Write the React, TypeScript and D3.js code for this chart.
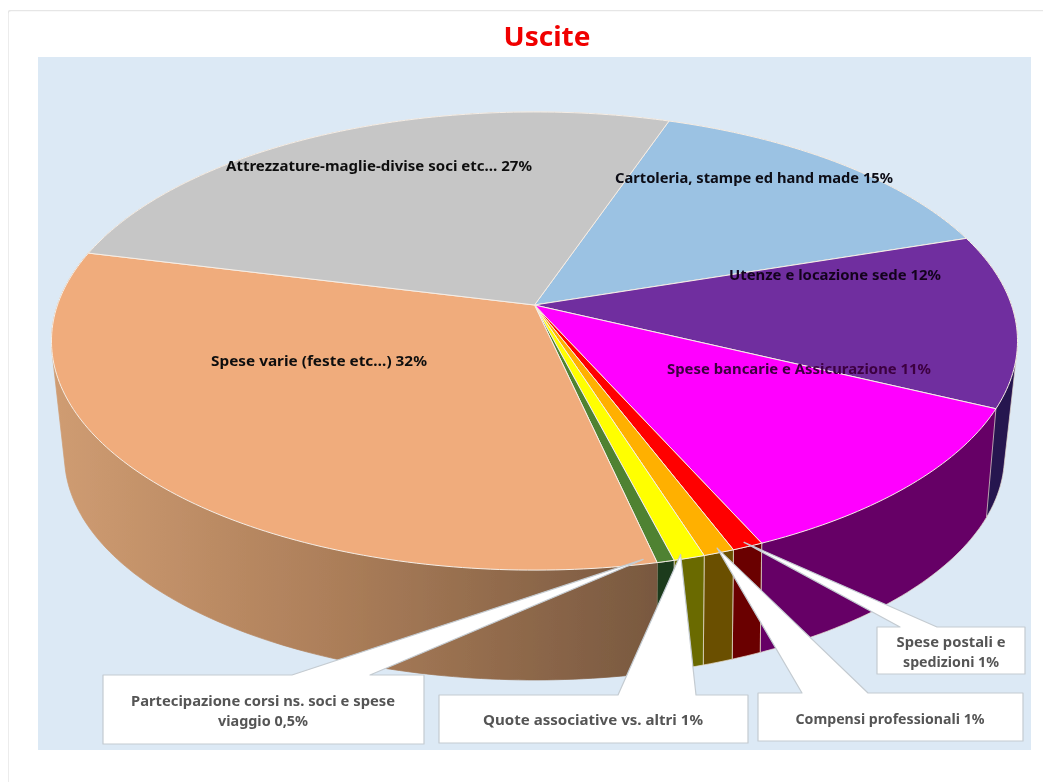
import React from "react";
import * as d3 from "d3";

const W = 1043, H = 782;

// ---------- data ----------
const categories = [
  "Cartoleria, stampe ed hand made",
  "Utenze e locazione sede",
  "Spese bancarie e Assicurazione",
  "Spese postali e spedizioni",
  "Compensi professionali",
  "Quote associative vs. altri",
  "Partecipazione corsi ns. soci e spese viaggio",
  "Spese varie (feste etc…)",
  "Attrezzature-maglie-divise soci etc…",
];
const values = [14.7, 12.2, 11.2, 0.9, 0.9, 0.9, 0.5, 32.4, 26.4];
const topColors = ["#9bc2e3", "#702e9f", "#ff00ff", "#ff0000", "#ffb000", "#ffff00", "#4f8233", "#f0ac7c", "#c6c6c6"];
const wallColors = ["#4d6172", "#27124f", "#660066", "#6a0000", "#6b5000", "#6b6b00", "#1c3a1c", "url(#peachWall)", "#636363"];

const titleText = "Uscite";
const inPieLabels = [
  "Cartoleria, stampe ed hand made 15%",
  "Utenze e locazione sede 12%",
  "Spese bancarie e Assicurazione 11%",
  "Spese varie (feste etc…) 32%",
  "Attrezzature-maglie-divise soci etc… 27%",
];
const calloutLines = [
  ["Spese postali e", "spedizioni 1%"],
  ["Compensi professionali 1%"],
  ["Quote associative vs. altri 1%"],
  ["Partecipazione corsi ns. soci e spese", "viaggio 0,5%"],
];

// ---------- layout ----------
const FONT = "'Noto Sans', 'DejaVu Sans', sans-serif";
const START = (18.9 * Math.PI) / 180;
const CX = 534.5;
type Face = { rx: number; ry: number; hy: number; k: number };
const topFace: Face = { rx: 477, ry: 223.4, hy: 305, k: 0.1573 };
const botFace: Face = { rx: 462.3, ry: 216.7, hy: 415.7, k: 0.18 };

const project = (f: Face, a: number, r = 1): [number, number] => {
  const u = r * Math.sin(a);
  const v = -r * Math.cos(a);
  const w = 1 - f.k * v;
  return [CX + (f.rx * u) / w, f.hy + (f.ry * v) / w];
};

const pie = d3.pie<number>().sort(null).startAngle(START).endAngle(START + 2 * Math.PI);
const arcs = pie(values);

const arcPoints = (f: Face, a0: number, a1: number) =>
  d3.range(0, 1.0001, 1 / Math.max(2, Math.ceil((a1 - a0) * 60))).map((t) => project(f, a0 + (a1 - a0) * t));

const line = d3.line();

const inPiePos = [
  { x: 754, y: 183, w: 278 },
  { x: 835, y: 280, w: 212 },
  { x: 799, y: 374, w: 264 },
  { x: 319, y: 366, w: 216 },
  { x: 379, y: 171, w: 306 },
];
const inPieFill = ["#0b0b14", "#12061f", "#3c0040", "#111", "#111"];

const callouts = [
  { box: [877, 627, 148, 47], base: [900, 937], arc: 3, along: 0.5, tip: 0.985, text: [[951, 647, 109], [951, 667, 96]] },
  { box: [758, 693, 265, 48], base: [802, 868], arc: 4, along: 0.45, tip: 0.985, text: [[890, 724, 189]] },
  { box: [439, 695, 309, 48], base: [618, 696], arc: 5, along: 0.7, tip: 0.985, text: [[593, 725, 220]] },
  { box: [103, 675, 321, 69], base: [292, 370], arc: 6, along: 1.7, tip: 0.985, text: [[263, 706, 264], [263, 726, 90]] },
];

export default function App() {
  return (
    <svg
      width={W}
      height={H}
      viewBox={`0 0 ${W} ${H}`}
      style={{ position: "absolute", left: 0, top: 0, display: "block", fontFamily: FONT }}
    >
      <defs>
        <linearGradient id="peachWall" gradientUnits="userSpaceOnUse" x1={55} x2={660} y1={0} y2={0}>
          <stop offset="0%" stopColor="#cf9c72" />
          <stop offset="45%" stopColor="#ad7f5a" />
          <stop offset="100%" stopColor="#78583f" />
        </linearGradient>
        <filter id="soft" x="0" y="0" width="100%" height="100%">
          <feGaussianBlur stdDeviation="0.4" />
        </filter>
      </defs>
      <rect x={0} y={0} width={W} height={H} fill="#ffffff" />
      <g filter="url(#soft)">
        <rect x={8} y={10.5} width={1080} height={800} rx={3} fill="#ffffff" stroke="#e6e6e6" strokeWidth={1.5} />
        <rect x={38} y={57} width={993} height={693} fill="#dce9f5" />
        <text x={547} y={46} textAnchor="middle" fontSize={27} fontWeight={700} fill="#f00000" textLength={87} lengthAdjust="spacingAndGlyphs">
          {titleText}
        </text>

        {arcs.map((d, i) => {
          const top = arcPoints(topFace, d.startAngle, d.endAngle);
          const bot = arcPoints(botFace, d.startAngle, d.endAngle);
          const hull = d3.polygonHull([...top, ...bot]) as [number, number][];
          return (
            <path key={`w${i}`} d={(line(hull) as string) + "Z"} fill={wallColors[i]} stroke={wallColors[i].startsWith("url") ? "url(#peachWall)" : "#e6dccf"} strokeWidth={0.9} strokeOpacity={0.8} />
          );
        })}
        {arcs.map((d, i) => {
          const pts = arcPoints(topFace, d.startAngle, d.endAngle);
          const hub = project(topFace, 0, 0);
          return (
            <path key={`t${i}`} d={(line([hub, ...pts]) as string) + "Z"} fill={topColors[i]} stroke="#f6eee6" strokeWidth={1} strokeLinejoin="round" />
          );
        })}

        {callouts.map((c, i) => {
          const d = arcs[c.arc];
          const tip = project(topFace, d.startAngle + (d.endAngle - d.startAngle) * c.along, c.tip);
          const [x, y, w, h] = c.box;
          const outline: [number, number][] = [
            [x, y], [c.base[0], y], tip, [c.base[1], y], [x + w, y], [x + w, y + h], [x, y + h],
          ];
          return (
            <g key={`c${i}`}>
              <path d={(line(outline) as string) + "Z"} fill="#ffffff" stroke="#c4cbd1" strokeWidth={1.2} strokeLinejoin="round" />
              {c.text.map((t, j) => (
                <text key={j} x={t[0]} y={t[1]} textAnchor="middle" fontSize={13.5} fontWeight={700} fill="#555555" textLength={t[2]} lengthAdjust="spacingAndGlyphs">
                  {calloutLines[i][j]}
                </text>
              ))}
            </g>
          );
        })}

        {inPieLabels.map((t, i) => (
          <text key={`l${i}`} x={inPiePos[i].x} y={inPiePos[i].y} textAnchor="middle" fontSize={14} fontWeight={700} fill={inPieFill[i]} textLength={inPiePos[i].w} lengthAdjust="spacingAndGlyphs">
            {t}
          </text>
        ))}
      </g>
    </svg>
  );
}
